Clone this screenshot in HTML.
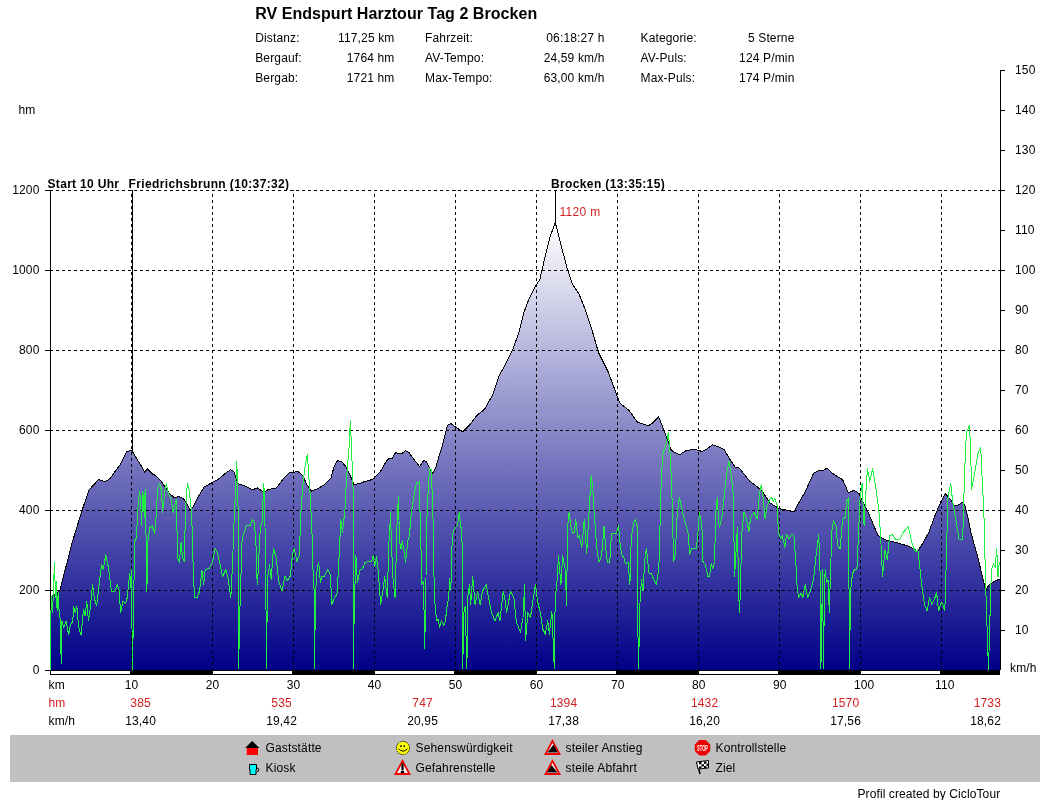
<!DOCTYPE html>
<html><head><meta charset="utf-8"><style>
html,body{margin:0;padding:0;background:#fff;width:1050px;height:800px;overflow:hidden}
svg{display:block;will-change:transform;letter-spacing:0.15px;font-family:"Liberation Sans", sans-serif;font-size:12px;fill:#000}
</style></head><body>
<svg width="1050" height="800" viewBox="0 0 1050 800">
<text x="255.2" y="19" font-size="16" font-weight="bold" letter-spacing="0.05">RV Endspurt Harztour Tag 2 Brocken</text>
<text x="255.2" y="42">Distanz:</text>
<text x="394.5" y="42" text-anchor="end">117,25 km</text>
<text x="425" y="42">Fahrzeit:</text>
<text x="604.5" y="42" text-anchor="end">06:18:27 h</text>
<text x="640.5" y="42">Kategorie:</text>
<text x="794.5" y="42" text-anchor="end">5 Sterne</text>
<text x="255.2" y="62">Bergauf:</text>
<text x="394.5" y="62" text-anchor="end">1764 hm</text>
<text x="425" y="62">AV-Tempo:</text>
<text x="604.5" y="62" text-anchor="end">24,59 km/h</text>
<text x="640.5" y="62">AV-Puls:</text>
<text x="794.5" y="62" text-anchor="end">124 P/min</text>
<text x="255.2" y="82">Bergab:</text>
<text x="394.5" y="82" text-anchor="end">1721 hm</text>
<text x="425" y="82">Max-Tempo:</text>
<text x="604.5" y="82" text-anchor="end">63,00 km/h</text>
<text x="640.5" y="82">Max-Puls:</text>
<text x="794.5" y="82" text-anchor="end">174 P/min</text>
<text x="18.5" y="114">hm</text>
<defs><linearGradient id="g" gradientUnits="userSpaceOnUse" x1="0" y1="222" x2="0" y2="670"><stop offset="0" stop-color="#ffffff"/><stop offset="1" stop-color="#000088"/></linearGradient></defs>
<polygon points="50.5,597.0 52.3,596.0 59.8,590.5 72.9,540.0 82.4,509.4 88.9,490.0 98.6,479.5 105.0,481.8 110.0,478.5 120.0,464.8 123.3,458.2 126.6,451.6 131.6,450.2 136.5,458.2 141.5,466.4 144.8,472.2 147.2,468.9 152.2,473.8 155.5,475.5 160.4,480.4 164.6,486.2 169.5,493.6 174.5,497.8 178.6,496.4 183.5,498.6 186.8,503.5 190.1,510.1 192.6,507.7 197.6,497.8 204.2,487.0 211.6,482.9 219.0,478.8 224.8,473.8 230.6,469.7 233.9,471.4 238.0,483.7 245.4,486.2 250.0,488.7 253.3,489.5 257.4,487.9 259.9,489.5 264.0,492.8 268.2,489.5 276.4,487.9 284.7,477.1 289.6,472.2 294.6,472.2 297.9,471.4 302.8,475.5 306.9,484.6 311.1,491.2 317.7,488.7 324.3,484.6 330.9,478.0 334.2,466.4 337.5,460.6 341.6,461.5 345.7,466.4 349.8,474.7 354.0,484.6 358.9,483.7 365.5,481.3 372.1,479.6 380.0,472.2 383.3,466.4 387.4,459.8 389.9,458.2 392.4,458.2 395.7,452.4 399.0,454.0 402.3,453.2 405.6,450.7 408.9,452.4 412.2,457.3 415.5,461.5 419.6,466.4 423.7,460.6 426.2,461.5 429.5,468.1 432.8,473.8 436.1,466.4 439.4,454.9 441.9,447.4 447.5,425.2 450.9,423.5 457.6,428.5 462.7,431.9 469.4,425.2 474.5,418.4 476.5,415.7 484.6,409.2 492.8,394.6 499.3,375.0 504.1,367.0 512.3,350.7 518.8,332.8 523.6,313.3 528.5,300.3 535.0,287.3 539.9,279.2 544.8,258.0 549.6,238.5 555.2,222.3 561.0,245.0 567.5,269.4 572.4,284.0 578.9,293.8 585.4,310.0 591.9,329.5 598.4,352.3 608.2,371.8 613.0,384.8 619.5,402.7 629.3,410.8 637.4,422.2 648.3,425.8 653.2,422.5 658.6,416.7 664.8,432.4 671.4,450.5 679.6,454.7 686.2,450.5 694.5,449.4 701.9,451.4 706.0,449.7 712.6,444.8 717.6,446.4 724.2,449.7 729.1,458.0 734.9,467.0 739.0,467.9 743.1,472.8 749.7,481.1 756.3,486.0 762.1,491.0 770.0,503.0 779.1,508.5 786.5,510.1 793.9,511.8 798.9,502.7 805.5,491.2 813.7,473.0 819.5,470.5 823.6,470.5 826.9,468.1 831.1,472.2 836.8,476.3 842.6,479.6 848.4,492.8 854.2,490.3 859.1,493.6 863.2,502.7 869.0,514.3 878.1,535.7 885.5,539.8 895.4,542.3 907.2,545.8 917.9,550.7 922.9,543.3 928.9,532.0 935.7,513.7 940.3,503.0 945.2,493.5 951.0,499.9 954.8,506.0 957.8,505.3 962.4,502.2 964.7,504.5 967.7,516.7 970.8,532.0 978.0,558.0 985.7,590.4 988.5,585.6 995.2,580.9 1000.0,579.0 1000,670 50,670" fill="url(#g)" stroke="none"/>
<path d="M50,590.5H1000 M50,510.5H1000 M50,430.5H1000 M50,350.5H1000 M50,270.5H1000 M50,190.5H1000" stroke="#000" stroke-width="1" stroke-dasharray="3 3" fill="none"/>
<path d="M131.5,190V670 M212.5,190V670 M293.5,190V670 M374.5,190V670 M455.5,190V670 M536.5,190V670 M617.5,190V670 M698.5,190V670 M779.5,190V670 M860.5,190V670 M941.5,190V670" stroke="#000" stroke-width="1" stroke-dasharray="3 3" stroke-dashoffset="2" fill="none"/>
<polyline points="50.5,597.0 52.3,596.0 59.8,590.5 72.9,540.0 82.4,509.4 88.9,490.0 98.6,479.5 105.0,481.8 110.0,478.5 120.0,464.8 123.3,458.2 126.6,451.6 131.6,450.2 136.5,458.2 141.5,466.4 144.8,472.2 147.2,468.9 152.2,473.8 155.5,475.5 160.4,480.4 164.6,486.2 169.5,493.6 174.5,497.8 178.6,496.4 183.5,498.6 186.8,503.5 190.1,510.1 192.6,507.7 197.6,497.8 204.2,487.0 211.6,482.9 219.0,478.8 224.8,473.8 230.6,469.7 233.9,471.4 238.0,483.7 245.4,486.2 250.0,488.7 253.3,489.5 257.4,487.9 259.9,489.5 264.0,492.8 268.2,489.5 276.4,487.9 284.7,477.1 289.6,472.2 294.6,472.2 297.9,471.4 302.8,475.5 306.9,484.6 311.1,491.2 317.7,488.7 324.3,484.6 330.9,478.0 334.2,466.4 337.5,460.6 341.6,461.5 345.7,466.4 349.8,474.7 354.0,484.6 358.9,483.7 365.5,481.3 372.1,479.6 380.0,472.2 383.3,466.4 387.4,459.8 389.9,458.2 392.4,458.2 395.7,452.4 399.0,454.0 402.3,453.2 405.6,450.7 408.9,452.4 412.2,457.3 415.5,461.5 419.6,466.4 423.7,460.6 426.2,461.5 429.5,468.1 432.8,473.8 436.1,466.4 439.4,454.9 441.9,447.4 447.5,425.2 450.9,423.5 457.6,428.5 462.7,431.9 469.4,425.2 474.5,418.4 476.5,415.7 484.6,409.2 492.8,394.6 499.3,375.0 504.1,367.0 512.3,350.7 518.8,332.8 523.6,313.3 528.5,300.3 535.0,287.3 539.9,279.2 544.8,258.0 549.6,238.5 555.2,222.3 561.0,245.0 567.5,269.4 572.4,284.0 578.9,293.8 585.4,310.0 591.9,329.5 598.4,352.3 608.2,371.8 613.0,384.8 619.5,402.7 629.3,410.8 637.4,422.2 648.3,425.8 653.2,422.5 658.6,416.7 664.8,432.4 671.4,450.5 679.6,454.7 686.2,450.5 694.5,449.4 701.9,451.4 706.0,449.7 712.6,444.8 717.6,446.4 724.2,449.7 729.1,458.0 734.9,467.0 739.0,467.9 743.1,472.8 749.7,481.1 756.3,486.0 762.1,491.0 770.0,503.0 779.1,508.5 786.5,510.1 793.9,511.8 798.9,502.7 805.5,491.2 813.7,473.0 819.5,470.5 823.6,470.5 826.9,468.1 831.1,472.2 836.8,476.3 842.6,479.6 848.4,492.8 854.2,490.3 859.1,493.6 863.2,502.7 869.0,514.3 878.1,535.7 885.5,539.8 895.4,542.3 907.2,545.8 917.9,550.7 922.9,543.3 928.9,532.0 935.7,513.7 940.3,503.0 945.2,493.5 951.0,499.9 954.8,506.0 957.8,505.3 962.4,502.2 964.7,504.5 967.7,516.7 970.8,532.0 978.0,558.0 985.7,590.4 988.5,585.6 995.2,580.9 1000.0,579.0" fill="none" stroke="#000" stroke-width="1" stroke-linejoin="round" shape-rendering="crispEdges"/>
<path d="M50.5,190V670M1000.5,70V670" stroke="#000" stroke-width="1" fill="none"/>
<polyline points="50.5,670.4 50.5,622.5 51.6,596.0 52.6,612.6 53.8,578.0 54.6,562.3 55.4,597.8 56.3,581.3 57.1,611.0 58.2,592.8 59.2,612.6 60.4,620.9 61.2,663.8 62.0,620.9 63.7,627.5 66.2,620.9 68.6,634.9 70.3,625.8 72.8,620.9 73.6,606.0 75.2,612.6 76.9,606.0 78.5,626.6 81.0,634.9 83.5,609.3 85.1,615.9 86.8,601.0 88.4,620.9 90.1,609.3 92.6,584.6 94.2,597.8 96.7,606.0 99.2,582.9 101.6,564.8 103.3,569.7 105.8,554.9 108.2,566.4 111.5,591.2 114.8,591.2 117.3,584.6 119.0,589.5 120.6,612.6 123.1,601.0 125.6,603.5 127.2,597.8 129.7,573.0 130.5,587.9 131.3,569.7 132.5,670.4 133.8,589.5 134.9,540.7 136.5,537.4 137.8,509.3 139.5,491.2 140.6,499.4 141.5,525.8 142.8,491.2 144.4,517.6 145.1,489.5 146.1,539.0 146.7,591.2 147.8,566.4 148.0,540.7 149.7,527.5 152.2,525.8 154.7,534.0 156.3,514.3 157.6,489.5 159.6,483.7 161.3,489.5 162.6,512.6 164.6,492.8 166.2,483.7 168.7,494.5 171.2,499.4 173.1,512.6 176.1,499.4 177.8,558.8 179.4,562.1 181.1,542.3 182.7,558.8 184.6,561.5 185.2,515.9 187.3,483.7 189.3,491.2 191.3,509.3 192.6,539.0 193.2,569.7 194.5,597.8 197.0,597.8 199.5,591.2 201.9,570.5 203.6,584.6 205.2,569.7 209.4,568.1 212.7,561.5 215.1,548.3 217.6,553.2 220.1,564.8 222.6,576.3 225.9,569.7 228.3,579.6 230.8,597.8 232.5,564.8 233.9,525.8 236.8,461.5 238.0,506.0 238.7,668.7 239.4,625.8 242.1,539.0 246.2,525.8 250.0,525.8 252.5,519.2 254.1,522.5 255.8,539.0 257.2,584.6 258.9,563.1 259.1,545.6 260.7,525.8 262.4,520.9 263.5,483.7 264.5,492.8 265.5,559.8 266.6,668.7 267.4,579.6 269.6,564.8 271.2,579.6 273.4,548.3 275.6,555.5 276.2,558.2 278.7,581.3 282.0,591.2 284.9,576.3 287.7,580.4 290.2,576.3 292.7,553.2 294.3,548.3 296.8,561.5 299.3,554.9 301.2,506.0 303.6,478.0 305.3,464.8 307.4,454.0 308.6,473.0 310.2,496.1 311.9,529.1 313.0,569.7 314.3,594.5 314.6,668.7 315.4,594.5 317.1,569.7 318.7,562.3 320.4,582.9 322.0,576.3 324.5,576.3 327.8,569.7 330.3,574.7 331.9,604.4 334.4,597.8 336.9,594.5 338.5,569.7 339.9,539.0 340.8,519.2 342.4,532.4 344.9,511.0 346.5,478.0 349.0,448.3 350.4,420.0 353.1,489.5 353.4,668.7 354.2,611.0 355.9,555.7 357.5,582.9 360.0,569.7 362.5,568.9 364.9,562.3 371.5,561.5 373.2,555.7 374.8,566.4 376.5,556.5 378.1,569.7 380.6,604.4 383.1,589.5 384.7,576.3 387.2,597.8 389.1,539.0 390.7,512.6 391.2,539.0 393.0,578.0 395.1,597.8 397.3,514.3 398.5,496.9 399.5,542.3 401.1,548.9 402.3,540.7 403.7,548.3 405.6,562.1 407.7,540.7 409.4,535.7 411.4,512.6 414.7,491.2 416.6,482.9 419.3,482.9 420.4,525.8 421.9,584.6 423.5,581.3 424.7,648.9 426.0,581.3 426.2,535.7 427.9,496.1 429.5,468.9 431.2,469.7 432.8,507.7 433.6,548.9 434.2,589.5 435.1,606.0 436.7,620.9 438.0,619.2 439.7,627.5 441.3,620.9 443.8,625.8 445.4,620.9 447.1,606.0 448.7,597.8 449.6,578.0 450.9,589.5 451.5,556.5 452.6,534.1 455.1,527.5 457.6,525.8 459.2,512.6 460.9,525.8 462.5,548.9 462.8,668.7 463.6,614.3 465.2,606.0 466.9,668.7 467.7,597.8 469.4,584.6 470.7,604.4 472.7,576.3 475.1,604.4 477.6,591.2 480.1,604.4 482.6,591.2 486.2,584.6 488.3,596.1 491.6,612.6 494.9,620.9 498.2,612.6 499.9,620.9 503.2,591.2 504.8,597.8 506.5,612.6 510.6,591.2 513.9,597.8 516.4,622.5 520.5,632.4 523.0,617.6 524.6,584.6 525.5,640.7 527.9,612.6 530.4,617.6 535.4,584.6 537.8,602.7 540.3,612.6 542.8,629.1 545.3,634.1 547.7,620.9 549.4,634.1 551.9,611.0 554.3,668.7 555.2,597.8 556.8,584.6 558.5,555.7 560.9,584.6 562.6,555.7 565.1,568.1 566.7,606.0 567.4,529.1 569.1,512.6 571.1,527.5 572.7,533.2 574.4,532.4 575.7,519.2 577.7,537.4 579.3,535.7 581.8,547.3 584.3,519.2 586.7,553.9 589.2,509.3 591.2,475.5 592.5,484.6 594.2,512.6 595.8,535.7 597.5,553.9 599.1,562.1 601.6,555.5 604.1,525.8 605.7,548.9 607.4,562.1 609.8,562.1 611.5,533.2 616.4,533.2 618.6,525.8 620.2,545.6 622.2,555.5 623.9,557.2 625.5,563.8 628.0,562.1 629.9,584.6 631.3,537.4 633.8,522.5 635.4,519.2 637.1,525.8 637.3,597.8 638.6,668.7 639.8,606.0 641.4,579.6 643.1,591.2 644.7,559.8 646.4,548.3 648.9,573.0 651.3,573.0 653.8,579.6 656.3,584.6 658.8,569.7 659.8,533.9 660.6,502.5 661.5,472.8 663.1,453.0 665.6,446.4 668.4,432.4 670.0,453.0 671.4,477.8 672.2,504.2 673.6,561.5 675.3,554.9 677.1,515.7 679.3,497.6 682.1,509.1 683.7,517.4 686.2,525.6 688.7,535.5 689.3,554.9 691.8,548.3 696.1,548.7 697.8,535.5 699.4,512.4 701.9,525.6 703.0,561.5 705.4,564.8 707.9,576.3 709.6,576.3 711.2,563.1 712.9,568.9 714.5,561.5 715.9,512.4 717.2,497.6 719.2,527.3 721.7,519.0 724.2,495.9 727.5,467.9 729.1,461.3 731.6,477.8 733.2,494.3 734.6,576.3 737.4,527.3 738.4,576.3 739.3,612.6 740.6,589.5 741.5,535.5 744.0,512.4 746.4,519.0 748.9,532.2 750.6,517.4 753.9,512.4 757.2,519.0 759.6,492.6 761.3,484.4 762.9,495.9 765.1,519.0 767.1,505.8 770.0,499.2 771.7,497.8 773.3,501.1 775.0,498.6 777.4,506.0 778.3,532.4 780.7,539.0 782.4,535.7 784.9,547.3 786.5,534.1 789.0,539.0 791.5,534.1 793.9,535.7 795.6,558.8 797.0,584.6 798.7,597.8 801.1,592.8 802.8,597.8 805.3,584.6 807.7,597.8 810.2,591.2 813.5,579.6 816.0,556.5 818.7,534.1 820.1,573.0 820.9,668.7 822.6,569.7 823.4,668.7 824.2,614.3 825.1,569.7 826.7,582.9 828.0,580.0 829.3,612.6 830.5,573.0 831.9,530.8 833.5,520.9 836.0,525.8 837.7,545.6 840.1,548.9 842.6,519.2 845.1,517.6 846.7,501.1 848.9,497.8 849.1,668.7 851.1,582.9 852.8,573.0 854.4,569.7 856.9,569.7 858.3,539.0 859.9,501.1 862.1,483.7 864.1,525.8 865.4,499.4 867.4,468.9 869.8,481.3 872.6,468.9 875.6,486.2 878.9,511.0 880.6,535.7 882.5,576.3 884.9,549.9 887.3,560.0 889.6,535.7 892.1,534.1 895.4,539.0 900.0,539.0 903.9,531.6 908.3,526.6 912.4,545.1 915.7,551.9 917.9,549.9 919.6,564.8 921.2,581.3 922.9,592.8 924.5,604.4 927.0,611.0 929.5,597.8 932.0,604.4 934.4,599.4 936.6,592.8 938.6,611.0 941.0,602.7 942.7,604.4 944.8,611.0 945.5,589.5 947.9,498.4 950.7,483.2 952.5,500.0 954.8,513.7 959.0,539.0 962.8,540.0 963.2,516.7 964.7,474.0 965.5,446.6 967.0,431.3 969.3,425.2 970.5,445.1 971.6,489.3 974.6,474.0 977.7,454.2 980.7,447.3 982.2,480.1 983.8,509.1 985.7,586.6 986.6,613.2 988.5,670.3 989.8,622.7 991.4,569.5 993.3,563.8 995.2,567.6 996.7,548.5 998.0,577.1 999.3,561.8" fill="none" stroke="#22f040" stroke-width="1" stroke-linejoin="round" shape-rendering="crispEdges"/>
<path d="M45,670.5H50 M45,590.5H50 M45,510.5H50 M45,430.5H50 M45,350.5H50 M45,270.5H50 M45,190.5H50 M1000,630.5H1005 M1000,590.5H1005 M1000,550.5H1005 M1000,510.5H1005 M1000,470.5H1005 M1000,430.5H1005 M1000,390.5H1005 M1000,350.5H1005 M1000,310.5H1005 M1000,270.5H1005 M1000,230.5H1005 M1000,190.5H1005 M1000,150.5H1005 M1000,110.5H1005 M1000,70.5H1005" stroke="#000" stroke-width="1" fill="none"/>
<text x="39.5" y="674.0" text-anchor="end">0</text>
<text x="39.5" y="594.0" text-anchor="end">200</text>
<text x="39.5" y="514.0" text-anchor="end">400</text>
<text x="39.5" y="434.0" text-anchor="end">600</text>
<text x="39.5" y="354.0" text-anchor="end">800</text>
<text x="39.5" y="274.0" text-anchor="end">1000</text>
<text x="39.5" y="194.0" text-anchor="end">1200</text>
<text x="1015" y="634.0">10</text>
<text x="1015" y="594.0">20</text>
<text x="1015" y="554.0">30</text>
<text x="1015" y="514.0">40</text>
<text x="1015" y="474.0">50</text>
<text x="1015" y="434.0">60</text>
<text x="1015" y="394.0">70</text>
<text x="1015" y="354.0">80</text>
<text x="1015" y="314.0">90</text>
<text x="1015" y="274.0">100</text>
<text x="1015" y="234.0">110</text>
<text x="1015" y="194.0">120</text>
<text x="1015" y="154.0">130</text>
<text x="1015" y="114.0">140</text>
<text x="1015" y="74.0">150</text>
<text x="1010" y="672">km/h</text>
<path d="M132.5,190V451M555.5,190V222" stroke="#000" stroke-width="1" fill="none"/>
<text x="47.5" y="188" font-weight="bold" letter-spacing="0.32">Start 10 Uhr</text>
<text x="128.5" y="188" font-weight="bold" letter-spacing="0.37">Friedrichsbrunn (10:37:32)</text>
<text x="551" y="188" font-weight="bold" letter-spacing="0.37">Brocken (13:35:15)</text>
<text x="559.5" y="216" fill="#d42020" letter-spacing="0.3">1120 m</text>
<rect x="50.5" y="670.5" width="949" height="4" fill="#000" stroke="#000" stroke-width="1"/>
<rect x="51" y="671" width="79" height="3" fill="#fff"/>
<rect x="213" y="671" width="79" height="3" fill="#fff"/>
<rect x="375" y="671" width="79" height="3" fill="#fff"/>
<rect x="537" y="671" width="79" height="3" fill="#fff"/>
<rect x="699" y="671" width="79" height="3" fill="#fff"/>
<rect x="861" y="671" width="79" height="3" fill="#fff"/>
<text x="48.5" y="689">km</text>
<text x="124.7" y="689">10</text>
<text x="205.7" y="689">20</text>
<text x="286.8" y="689">30</text>
<text x="367.8" y="689">40</text>
<text x="448.8" y="689">50</text>
<text x="529.8" y="689">60</text>
<text x="610.9" y="689">70</text>
<text x="691.9" y="689">80</text>
<text x="772.9" y="689">90</text>
<text x="853.9" y="689">100</text>
<text x="935.0" y="689">110</text>
<text x="48.5" y="707" fill="#d42020">hm</text>
<text x="48.5" y="725">km/h</text>
<text x="140.6" y="707" text-anchor="middle" fill="#d42020">385</text>
<text x="140.6" y="725" text-anchor="middle">13,40</text>
<text x="281.6" y="707" text-anchor="middle" fill="#d42020">535</text>
<text x="281.6" y="725" text-anchor="middle">19,42</text>
<text x="422.6" y="707" text-anchor="middle" fill="#d42020">747</text>
<text x="422.6" y="725" text-anchor="middle">20,95</text>
<text x="563.6" y="707" text-anchor="middle" fill="#d42020">1394</text>
<text x="563.6" y="725" text-anchor="middle">17,38</text>
<text x="704.6" y="707" text-anchor="middle" fill="#d42020">1432</text>
<text x="704.6" y="725" text-anchor="middle">16,20</text>
<text x="845.6" y="707" text-anchor="middle" fill="#d42020">1570</text>
<text x="845.6" y="725" text-anchor="middle">17,56</text>
<text x="1001" y="707" text-anchor="end" fill="#d42020">1733</text>
<text x="1001" y="725" text-anchor="end">18,62</text>
<rect x="10" y="735" width="1030" height="47" fill="#c0c0c0"/>
<text x="265.5" y="751.5">Gaststätte</text>
<text x="265.5" y="771.5">Kiosk</text>
<text x="415.5" y="751.5">Sehenswürdigkeit</text>
<text x="415.5" y="771.5">Gefahrenstelle</text>
<text x="565.5" y="751.5">steiler Anstieg</text>
<text x="565.5" y="771.5">steile Abfahrt</text>
<text x="715.5" y="751.5">Kontrollstelle</text>
<text x="715.5" y="771.5">Ziel</text>
<path d="M252.25,741 L259.5,748 H245 Z" fill="#000"/><rect x="246.75" y="748" width="11.25" height="7" fill="#f00"/>
<path d="M249.5,764.5 h7 v5 l-0.5,0 v5 h-6 v-5 l-0.5,0 z" fill="#00ffff" stroke="#000" stroke-width="1"/><path d="M257,768 a1.8,1.8 0 0 1 0,3.6" fill="none" stroke="#000" stroke-width="1"/>
<circle cx="403" cy="748" r="6.6" fill="#ffff00" stroke="#202000" stroke-width="1" stroke-dasharray="1.5 0.8"/><rect x="400.2" y="745.3" width="1.6" height="1.6" fill="#000"/><rect x="403.4" y="745.3" width="1.6" height="1.6" fill="#000"/><path d="M398.6,748.8 Q403,753.5 407.4,748.8" stroke="#000" stroke-width="1" fill="none"/>
<path d="M402.5,761 L409.5,774 H395.5 Z" fill="#fff" stroke="#ee0000" stroke-width="1.8" stroke-linejoin="miter"/><path d="M401.4,763.5 h2.2 v7 h-2.2 z M400.8,771 h3.4 v2 h-3.4 z" fill="#000"/>
<path d="M552.5,741 L559.5,754 H545.5 Z" fill="#fff" stroke="#ee0000" stroke-width="1.8"/><path d="M547.5,752.5 L553.5,744.5 L557.8,752.5 Z" fill="#000"/>
<path d="M552.5,761 L559.5,774 H545.5 Z" fill="#fff" stroke="#ee0000" stroke-width="1.8"/><path d="M547.2,772.5 L551.5,765 L557.5,772.5 Z" fill="#000"/>
<path d="M699.3,740 h6.4 l4.5,4.5 v6.4 l-4.5,4.5 h-6.4 l-4.5,-4.5 v-6.4 z" fill="#ee0000"/><text x="702.5" y="750.9" font-size="9" font-weight="bold" fill="#fff" text-anchor="middle" textLength="11" lengthAdjust="spacingAndGlyphs">STOP</text>
<path d="M697,762 L700,774" stroke="#000" stroke-width="1.6"/><path d="M696.5,762 L708.5,760.5 L708.5,768 L698,769 Z" fill="#fff" stroke="#000" stroke-width="1"/><path d="M699,762 h2.5v2.3h-2.5z M704,761.5h2.5v2.3h-2.5z M701.5,764.3h2.5v2.3h-2.5z M706.5,763.8h2v2.3h-2z M699,766.6h2.5v2h-2.5z M704,766h2.5v2h-2.5z" fill="#000"/>
<text x="857.5" y="797.5" letter-spacing="0.1">Profil created by CicloTour</text>
</svg></body></html>
